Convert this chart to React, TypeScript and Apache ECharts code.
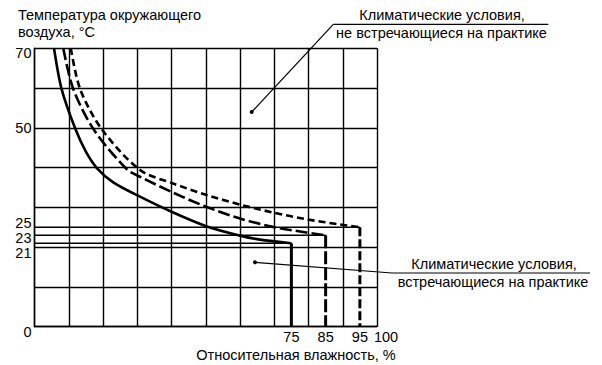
import React, { useEffect, useRef } from "react";
import * as echarts from "echarts";

// Tick labels
const yLabelValues = [0, 21, 23, 25, 50, 70];
const xLabelValues = [75, 85, 95, 100];

// Threshold lines (temperature levels) and their humidity limits
const levelLines: { y: number; xEnd: number }[] = [
  { y: 21, xEnd: 75 },
  { y: 23, xEnd: 85 },
  { y: 25, xEnd: 95 },
];

// Curves: [relative humidity %, temperature °C]
const solidCurve: [number, number][] = [
  [5.7, 70], [7.9, 59.8], [11.8, 50], [15, 44], [18.2, 39.9], [23, 36.3], [30.8, 32.7],
  [40.5, 28.7], [50.3, 25.2], [60, 22.9], [65.8, 21.9], [75, 21],
];
const longDashCurve: [number, number][] = [
  [8.4, 70], [11.3, 59.8], [17.2, 49.7], [26.9, 39.6], [30.8, 37.7], [40.5, 33.7],
  [50.3, 30.1], [60, 27.2], [69.6, 25.1], [79.3, 23.7], [85, 23],
];
const shortDashCurve: [number, number][] = [
  [10.6, 70], [13.3, 59.8], [19.6, 49.7], [30.8, 39.4], [40.5, 36], [50.3, 33.1],
  [60, 30.7], [69.7, 28.7], [79.5, 27], [89.2, 25.7], [95, 25],
];

const FONT = '"Liberation Sans", Arial, Helvetica, sans-serif';
const FS = 14.5;

export default function App() {
  const ref = useRef<HTMLDivElement>(null);
  useEffect(() => {
    if (!ref.current) return;
    const chart = echarts.init(ref.current, undefined, { renderer: "svg" });
    const black = "#000";
    const yRich: any = {
      d0: { padding: [10, 0, 0, 0] },
      d21: { padding: [19, 0, 0, 0] },
      d23: { padding: [5, 0, 0, 0] },
      d25: { padding: [0, 0, 9, 0] },
      d50: {},
      d70: { padding: [10, 0, 0, 0] },
    };
    Object.keys(yRich).forEach((k) => {
      yRich[k] = { ...yRich[k], fontSize: FS, fontFamily: FONT, color: black, lineHeight: 12 };
    });
    const xRich: any = {
      n: { fontSize: FS, fontFamily: FONT, color: black },
      r: { fontSize: FS, fontFamily: FONT, color: black, padding: [0, 0, 0, 18] },
    };

    const series: any[] = [];
    levelLines.forEach((l) => {
      series.push({
        type: "line",
        data: [[0, l.y], [l.xEnd, l.y]],
        symbol: "none",
        lineStyle: { color: black, width: 1.4 },
        silent: true,
      });
    });
    const curveDefs = [
      { data: solidCurve, dash: "solid" as any, dropDash: "solid" as any },
      { data: longDashCurve, dash: [12, 4], dropDash: [13, 3] },
      { data: shortDashCurve, dash: [7, 4], dropDash: [9, 3] },
    ];
    curveDefs.forEach((c) => {
      series.push({
        type: "line",
        data: c.data,
        symbol: "none",
        smooth: 0.3,
        lineStyle: { color: black, width: 2.6, type: c.dash },
        silent: true,
      });
      const last = c.data[c.data.length - 1];
      series.push({
        type: "line",
        data: [[last[0], last[1]], [last[0], 0]],
        symbol: "none",
        lineStyle: { color: black, width: 3, type: c.dropDash },
        silent: true,
      });
    });

    const txt = (text: string, x: number, y: number, align = "center") => ({
      type: "text", x, y,
      style: { text, font: `${FS}px ${FONT}`, fill: black, align, verticalAlign: "middle" },
    });

    const option: any = {
      animation: false,
      backgroundColor: "#fff",
      textStyle: { fontFamily: FONT },
      grid: { left: 34.5, top: 48.3, right: 225, bottom: 38.3, containLabel: false },
      xAxis: [
        {
          type: "value", min: 0, max: 100, interval: 10,
          axisLine: { show: true, lineStyle: { color: black, width: 1.4 } },
          axisTick: { show: false }, axisLabel: { show: false },
          splitLine: { show: true, lineStyle: { color: black, width: 1.4 } },
        },
        {
          type: "value", min: 0, max: 100, interval: 5, position: "bottom",
          axisLine: { show: false }, axisTick: { show: false }, splitLine: { show: false },
          axisLabel: {
            margin: 3,
            formatter: (v: number) =>
              xLabelValues.includes(v) ? (v === 100 ? `{r|${v}}` : `{n|${v}}`) : "",
            rich: xRich,
          },
        },
      ],
      yAxis: [
        {
          type: "value", min: 0, max: 70, interval: 10,
          axisLine: { show: true, lineStyle: { color: black, width: 1.4 } },
          axisTick: { show: false }, axisLabel: { show: false },
          splitLine: { show: true, lineStyle: { color: black, width: 1.4 } },
        },
        {
          type: "value", min: 0, max: 70, interval: 1, position: "left",
          axisLine: { show: false }, axisTick: { show: false }, splitLine: { show: false },
          axisLabel: {
            margin: 3,
            formatter: (v: number) => (yLabelValues.includes(v) ? `{d${v}|${v}}` : ""),
            rich: yRich,
          },
        },
      ],
      series,
      graphic: [
        txt("Температура окружающего", 18, 15, "left"),
        txt("воздуха, °C", 18, 32, "left"),
        txt("Относительная влажность, %", 296, 355),
        // Upper annotation
        txt("Климатические условия,", 442, 15),
        txt("не встречающиеся на практике", 441.5, 32.5),
        { type: "line", shape: { x1: 333.3, y1: 24.3, x2: 548.3, y2: 24.3 }, style: { stroke: black, lineWidth: 1.2 } },
        { type: "line", shape: { x1: 251.7, y1: 112, x2: 333.3, y2: 24.3 }, style: { stroke: black, lineWidth: 1.2 } },
        { type: "circle", shape: { cx: 251.7, cy: 112, r: 2 }, style: { fill: black } },
        // Lower annotation
        txt("Климатические условия,", 494, 263.5),
        txt("встречающиеся на практике", 493, 282),
        { type: "line", shape: { x1: 392, y1: 273, x2: 590, y2: 273 }, style: { stroke: black, lineWidth: 1.2 } },
        { type: "line", shape: { x1: 255, y1: 262.3, x2: 392, y2: 273 }, style: { stroke: black, lineWidth: 1.2 } },
        { type: "circle", shape: { cx: 255, cy: 262.3, r: 2 }, style: { fill: black } },
      ],
    };
    chart.setOption(option);
    return () => chart.dispose();
  }, []);
  return (
    <div
      ref={ref}
      style={{ position: "absolute", left: 0, top: 0, width: 602, height: 365, background: "#fff" }}
    />
  );
}
